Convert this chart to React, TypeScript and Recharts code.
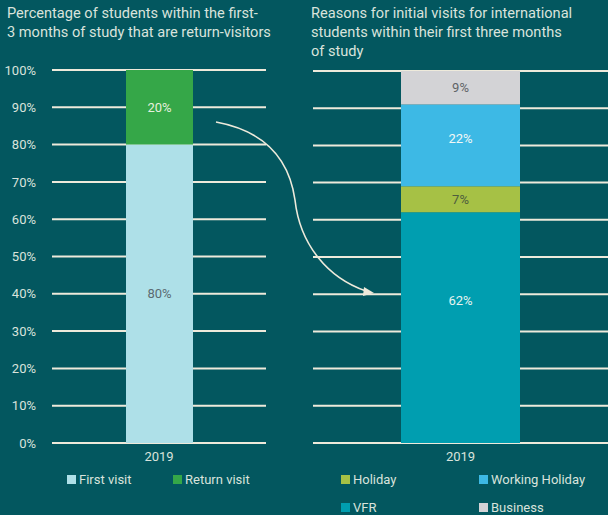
import React from "react";
import { BarChart, Bar, XAxis, YAxis, CartesianGrid, LabelList } from "recharts";

const years = ["2019"];
const firstVisit = [80];
const returnVisit = [20];
const vfr = [62];
const holiday = [7];
const workingHoliday = [22];
const business = [9];
const pctTicks = [0, 10, 20, 30, 40, 50, 60, 70, 80, 90, 100];

const BG = "#03575f";
const GRID = "#eeeadb";
const TEXT = "#d9e3dc";
const FONT = "Roboto, 'Noto Sans', sans-serif";

const leftData = years.map((y, i) => ({ year: y, firstVisit: firstVisit[i], returnVisit: returnVisit[i] }));
const rightData = years.map((y, i) => ({
  year: y,
  vfr: vfr[i],
  holiday: holiday[i],
  workingHoliday: workingHoliday[i],
  business: business[i],
}));

const pct = (v: any) => `${v}%`;

function LegendItem({ color, label, left, top }: { color: string; label: string; left: number; top: number }) {
  return (
    <div style={{ position: "absolute", left, top, display: "flex", alignItems: "center", color: TEXT, fontSize: 13 }}>
      <span style={{ width: 9, height: 9, background: color, display: "inline-block", marginRight: 3 }} />
      {label}
    </div>
  );
}

export default function App() {
  return (
    <div style={{ position: "absolute", left: 0, top: 0, width: 608, height: 515, background: BG, fontFamily: FONT, overflow: "hidden" }}>
      <div style={{ position: "absolute", left: 7, top: 4, color: TEXT, fontSize: 14.6, lineHeight: "19px", width: 300, whiteSpace: "nowrap" }}>
        Percentage of students within the first-
        <br />3 months of study that are return-visitors
      </div>
      <div style={{ position: "absolute", left: 311, top: 4, color: TEXT, fontSize: 14.6, lineHeight: "19px", width: 297, whiteSpace: "nowrap" }}>
        Reasons for initial visits for international
        <br />students within their first three months
        <br />of study
      </div>

      {/* left chart */}
      <div style={{ position: "absolute", left: 0, top: 0 }}>
        <BarChart width={300} height={515} data={leftData} margin={{ top: 70, right: 34, left: 0, bottom: 42 }}>
          <CartesianGrid vertical={false} stroke={GRID} strokeWidth={2} />
          <XAxis dataKey="year" axisLine={false} tickLine={false} tickSize={0} tickMargin={9} height={30}
            tick={{ fill: TEXT, fontSize: 13, fontFamily: FONT }} />
          <YAxis domain={[0, 100]} ticks={pctTicks} tickFormatter={pct} axisLine={false} tickLine={false}
            tickSize={0} tickMargin={16} width={52} interval={0} tick={{ fill: TEXT, fontSize: 13, fontFamily: FONT }} />
          <Bar dataKey="firstVisit" stackId="a" fill="#aee0e8" barSize={67} isAnimationActive={false}>
            <LabelList dataKey="firstVisit" position="center" formatter={pct} fill="#5b6b72" fontSize={13} fontFamily={FONT} />
          </Bar>
          <Bar dataKey="returnVisit" stackId="a" fill="#35a748" barSize={67} isAnimationActive={false}>
            <LabelList dataKey="returnVisit" position="center" formatter={pct} fill="#e6f0de" fontSize={13} fontFamily={FONT} />
          </Bar>
        </BarChart>
      </div>

      {/* right chart */}
      <div style={{ position: "absolute", left: 300, top: 0 }}>
        <BarChart width={308} height={515} data={rightData} margin={{ top: 71, right: 0, left: 13, bottom: 42 }}>
          <CartesianGrid vertical={false} stroke={GRID} strokeWidth={2} />
          <XAxis dataKey="year" axisLine={false} tickLine={false} tickSize={0} tickMargin={9} height={30}
            tick={{ fill: TEXT, fontSize: 13, fontFamily: FONT }} />
          <YAxis hide domain={[0, 100]} ticks={pctTicks} width={0} />
          <Bar dataKey="vfr" stackId="b" fill="#009eb0" barSize={119} isAnimationActive={false}>
            <LabelList dataKey="vfr" position="insideTop" offset={83} formatter={pct} fill="#e8f4f0" fontSize={13} fontFamily={FONT} />
          </Bar>
          <Bar dataKey="holiday" stackId="b" fill="#a6c145" barSize={119} isAnimationActive={false}>
            <LabelList dataKey="holiday" position="center" formatter={pct} fill="#4e5e3e" fontSize={13} fontFamily={FONT} />
          </Bar>
          <Bar dataKey="workingHoliday" stackId="b" fill="#3db9e5" barSize={119} isAnimationActive={false}>
            <LabelList dataKey="workingHoliday" position="insideTop" offset={29} formatter={pct} fill="#f2f8f6" fontSize={13} fontFamily={FONT} />
          </Bar>
          <Bar dataKey="business" stackId="b" fill="#d3d3d6" barSize={119} isAnimationActive={false}>
            <LabelList dataKey="business" position="center" formatter={pct} fill="#5f6366" fontSize={13} fontFamily={FONT} />
          </Bar>
        </BarChart>
      </div>

      {/* arrow annotation */}
      <svg width={608} height={515} style={{ position: "absolute", left: 0, top: 0, pointerEvents: "none" }}>
        <path d="M216,122 C270,132 290,165 295,200 C300,245 328,278 366,291" fill="none" stroke={GRID} strokeWidth={1.6} />
        <path d="M374,293 L364,287 L363,296 Z" fill={GRID} />
      </svg>

      <LegendItem color="#aee0e8" label="First visit" left={67} top={472} />
      <LegendItem color="#35a748" label="Return visit" left={173} top={472} />
      <LegendItem color="#a6c145" label="Holiday" left={341} top={472} />
      <LegendItem color="#3db9e5" label="Working Holiday" left={479} top={472} />
      <LegendItem color="#009eb0" label="VFR" left={341} top={500} />
      <LegendItem color="#d3d3d6" label="Business" left={479} top={500} />
    </div>
  );
}
